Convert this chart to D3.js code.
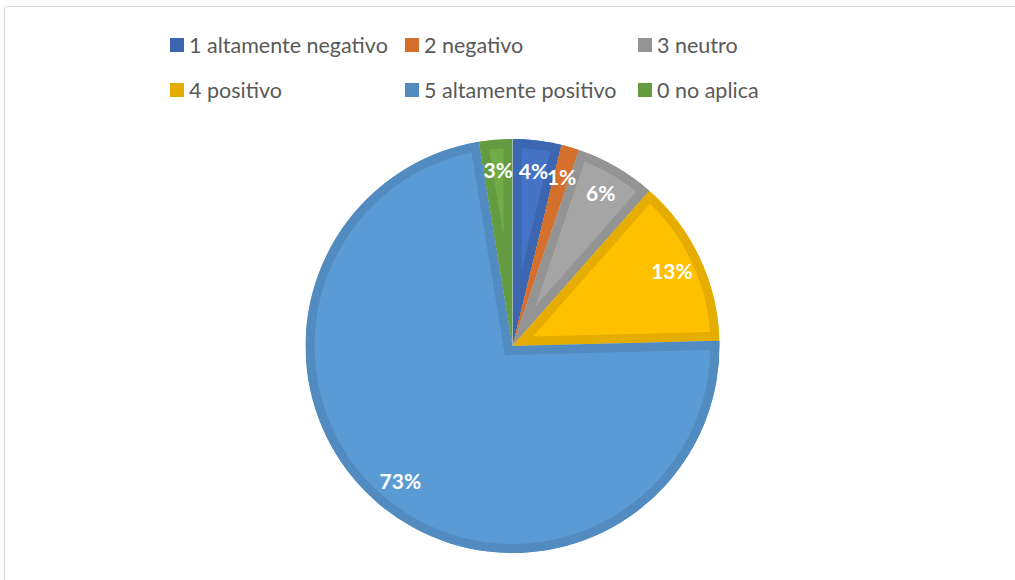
<!DOCTYPE html>
<html>
<head>
<meta charset="utf-8">
<script src="https://cdn.jsdelivr.net/npm/d3@7"></script>
<style>
  body { margin: 0; background: #fff; }
  svg { display: block; }
</style>
</head>
<body>
<div id="chart"></div>
<script>
// categories, values (share of answers) and slice colours
var categories = ["1 altamente negativo", "2 negativo", "3 neutro", "4 positivo", "5 altamente positivo", "0 no aplica"];
var values = [3.8, 1.4, 6.3, 13.1, 72.8, 2.6];
var colors = ["#4472C4", "#ED7D31", "#A5A5A5", "#FFC000", "#5B9BD5", "#70AD47"];

var w = 1015, h = 580;
var cx = 512.5, cy = 346, r = 207;

var svg = d3.select("#chart").append("svg")
    .attr("width", w)
    .attr("height", h);

// chart area frame
svg.append("rect")
   .attr("x", 4.5).attr("y", 6.5)
   .attr("width", w + 10).attr("height", h + 10)
   .attr("rx", 3)
   .attr("fill", "#fff")
   .attr("stroke", "#d9d9d9")
   .attr("stroke-width", 1.2);

var data = categories.map(function(c, i) { return { name: c, value: values[i], color: colors[i] }; });
var total = d3.sum(values);

var pie = d3.pie().sort(null).value(function(d) { return d.value; });
var arc = d3.arc().innerRadius(0).outerRadius(r);
var labelArc = d3.arc().innerRadius(r * 0.85).outerRadius(r * 0.85);

var g = svg.append("g").attr("transform", "translate(" + cx + "," + cy + ")");
var defs = svg.append("defs");

var arcs = pie(data);

arcs.forEach(function(d, i) {
    defs.append("clipPath")
        .attr("id", "clip" + i)
        .append("path")
        .attr("d", arc(d));
});

// slices: light fill with an inset darker border
g.selectAll("path.slice")
 .data(arcs)
 .enter()
 .append("path")
 .attr("class", "slice")
 .attr("d", arc)
 .attr("clip-path", function(d, i) { return "url(#clip" + i + ")"; })
 .attr("fill", function(d) { return d.data.color; })
 .attr("stroke", function(d) { return d3.color(d.data.color).darker(0.3); })
 .attr("stroke-width", 18)
 .attr("stroke-linejoin", "miter");

// percentage labels
g.selectAll("text.lbl")
 .data(arcs)
 .enter()
 .append("text")
 .attr("class", "lbl")
 .attr("transform", function(d) { return "translate(" + labelArc.centroid(d) + ")"; })
 .attr("text-anchor", "middle")
 .attr("dy", "0.36em")
 .style("font-family", "Lato, 'Open Sans', sans-serif")
 .style("font-weight", "bold")
 .style("font-size", "21px")
 .attr("fill", "#fff")
 .text(function(d) { return Math.round(d.data.value / total * 100) + "%"; });

// legend, 3 columns x 2 rows
var legX = [170, 405, 638];
var legY = [45, 90];

var leg = svg.selectAll("g.leg")
    .data(data)
    .enter()
    .append("g")
    .attr("class", "leg")
    .attr("transform", function(d, i) { return "translate(" + legX[i % 3] + "," + legY[Math.floor(i / 3)] + ")"; });

leg.append("rect")
   .attr("x", 0).attr("y", -7)
   .attr("width", 14).attr("height", 14)
   .attr("fill", function(d) { return d3.color(d.color).darker(0.3); });

leg.append("text")
   .attr("x", 19)
   .attr("dy", "0.36em")
   .style("font-family", "Lato, 'Open Sans', sans-serif")
   .style("font-size", "21.5px")
   .attr("fill", "#595959")
   .text(function(d) { return d.name; });
</script>
</body>
</html>
